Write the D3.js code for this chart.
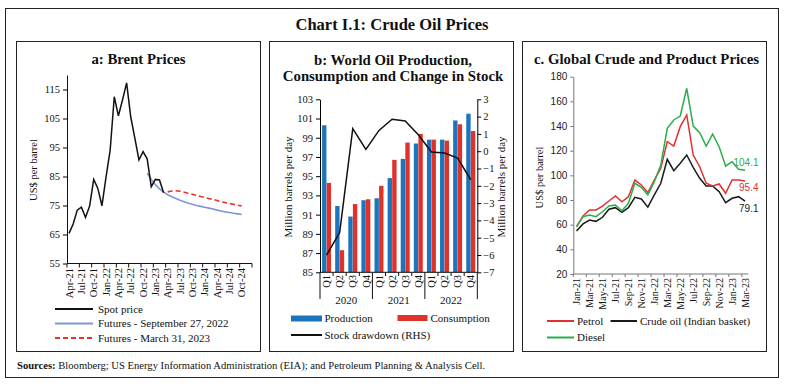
<!DOCTYPE html>
<html>
<head>
<meta charset="utf-8">
<script src="https://cdn.jsdelivr.net/npm/d3@7"></script>
<style>
  body { margin: 0; background: #fff; }
  svg text { font-family: "Liberation Serif", "Times New Roman", serif; fill: #111; }
  .sans { font-family: "Liberation Sans", Arial, sans-serif !important; }
</style>
</head>
<body>
<svg id="chart" width="787" height="389"></svg>
<script>
// --- Panel a: Brent (US$ per barrel), monthly ---
const brentStart = new Date(2021, 3, 1);   // Apr-21
const brentEnd = new Date(2025, 0, 1);     // up to Dec-24
const brentTickLabels = ["Apr-21","Jul-21","Oct-21","Jan-22","Apr-22","Jul-22","Oct-22","Jan-23",
  "Apr-23","Jul-23","Oct-23","Jan-24","Apr-24","Jul-24","Oct-24"];
const brentYTicks = [55, 65, 75, 85, 95, 105, 115];
// Apr-21 .. Mar-23
const spotPrice = [65.4, 68.6, 73.4, 74.4, 70.9, 74.8, 84.0, 80.9, 74.9, 84.9, 94.1, 112.5,
  105.9, 111.4, 117.3, 105.6, 98.2, 90.7, 93.6, 91.1, 81.5, 84.0, 83.8, 79.4];
// Nov-22 .. Oct-24
const futuresSep = [86.1, 84.0, 82.2, 80.7, 79.6, 78.7, 78.0, 77.4, 76.8, 76.3, 75.8, 75.4,
  75.0, 74.7, 74.4, 74.1, 73.8, 73.4, 73.1, 72.8, 72.6, 72.3, 72.1, 71.9];
// Apr-23 .. Oct-24
const futuresMar = [79.7, 80.0, 80.1, 79.9, 79.6, 79.2, 78.9, 78.5, 78.1, 77.8, 77.4, 77.1,
  76.7, 76.3, 76.0, 75.7, 75.4, 75.1, 74.8];

// --- Panel b: world oil balance, quarterly ---
const quarters = ["Q1","Q2","Q3","Q4","Q1","Q2","Q3","Q4","Q1","Q2","Q3","Q4"];
const years = ["2020", "2021", "2022"];
const production = [100.3, 91.9, 90.8, 92.5, 92.7, 94.8, 96.8, 98.4, 98.8, 98.8, 100.8, 101.5];
const consumption = [94.3, 87.3, 92.1, 92.6, 94.0, 96.7, 98.5, 99.4, 98.8, 98.7, 100.4, 99.7];
const stockDrawdown = [-6.0, -4.7, 1.3, 0.1, 1.2, 1.85, 1.75, 0.95, -0.05, -0.1, -0.4, -1.65];
const leftTicksB = [85, 87, 89, 91, 93, 95, 97, 99, 101, 103];
const rightTicksB = [-7, -6, -5, -4, -3, -2, -1, 0, 1, 2, 3];

// --- Panel c: crude and product prices, Jan-21 .. Mar-23 ---
const productMonths = ["Jan-21","Feb-21","Mar-21","Apr-21","May-21","Jun-21","Jul-21","Aug-21","Sep-21",
  "Oct-21","Nov-21","Dec-21","Jan-22","Feb-22","Mar-22","Apr-22","May-22","Jun-22","Jul-22","Aug-22",
  "Sep-22","Oct-22","Nov-22","Dec-22","Jan-23","Feb-23","Mar-23"];
const crudeIndian = [54.9, 60.6, 63.8, 62.7, 66.0, 72.5, 73.8, 70.0, 73.8, 82.2, 80.8, 74.2,
  84.1, 93.6, 113.0, 103.8, 109.8, 116.5, 106.5, 97.6, 91.4, 91.4, 86.8, 77.8, 81.4, 82.7, 79.1];
const petrol = [58.4, 67.0, 71.9, 71.9, 75.1, 79.2, 83.3, 78.6, 82.7, 96.2, 92.2, 86.0,
  96.2, 105.7, 127.3, 123.8, 139.5, 149.0, 116.5, 107.0, 93.6, 91.4, 93.0, 85.5, 96.2, 96.2, 95.4];
const diesel = [58.4, 66.5, 67.9, 66.5, 70.5, 75.2, 76.0, 71.3, 77.3, 93.6, 90.3, 84.1,
  94.9, 108.4, 138.2, 144.9, 148.1, 170.6, 140.0, 134.6, 123.8, 133.5, 123.2, 107.6, 111.1, 104.9, 104.1];
const yTicksC = [20, 40, 60, 80, 100, 120, 140, 160, 180];

const svg = d3.select("#chart");
const fmtMonth = d3.timeFormat("%b-%y");

// frames and titles
svg.append("rect").attr("x", 5.5).attr("y", 8.5).attr("width", 773).attr("height", 369)
  .attr("fill", "none").attr("stroke", "#222").attr("stroke-width", 1);
[16.5, 269.5, 522.5].forEach(x => {
  svg.append("rect").attr("x", x).attr("y", 41.5).attr("width", 244).attr("height", 310)
    .attr("fill", "none").attr("stroke", "#222").attr("stroke-width", 1);
});
svg.append("text").attr("x", 392).attr("y", 30).attr("text-anchor", "middle")
  .style("font-size", "16.5px").style("font-weight", "bold").text("Chart I.1: Crude Oil Prices");

const sources = svg.append("text").attr("x", 17).attr("y", 368.5).style("font-size", "10.6px");
sources.append("tspan").style("font-weight", "bold").text("Sources:");
sources.append("tspan").text(" Bloomberg; US Energy Information Administration (EIA); and Petroleum Planning & Analysis Cell.");

function panelTitle(x, y, txt) {
  svg.append("text").attr("x", x).attr("y", y).attr("text-anchor", "middle")
    .style("font-size", "14.8px").style("font-weight", "bold").text(txt);
}
function yTitle(x, y, txt, size) {
  svg.append("text").attr("transform", `translate(${x},${y}) rotate(-90)`)
    .attr("text-anchor", "middle").style("font-size", size || "10.5px").text(txt);
}
function legendLine(g, x1, x2, y, color, dash, width) {
  g.append("line").attr("x1", x1).attr("x2", x2).attr("y1", y).attr("y2", y)
    .attr("stroke", color).attr("stroke-width", width || 2)
    .attr("stroke-dasharray", dash || null);
}
function legendText(g, x, y, txt) {
  g.append("text").attr("x", x).attr("y", y).attr("dy", "0.35em").style("font-size", "11px").text(txt);
}

// ---------------- Panel a ----------------
function drawBrent() {
  const g = svg.append("g");
  const months = d3.timeMonth.range(brentStart, brentEnd).map(fmtMonth);
  const x = d3.scaleBand().domain(months).range([67, 252]);
  const y = d3.scaleLinear().domain([55, 120]).range([263.5, 75]);
  const cx = m => x(m) + x.bandwidth() / 2;

  panelTitle(138.5, 64, "a: Brent Prices");
  yTitle(37, 170, "US$ per barrel");

  const yAxis = g.append("g").attr("transform", "translate(67,0)")
    .call(d3.axisLeft(y).tickValues(brentYTicks).tickSize(4).tickSizeOuter(0));
  yAxis.selectAll("text").style("font-size", "10.5px").style("font-family", "Liberation Serif");
  yAxis.select(".domain").attr("stroke", "#111");

  // x axis: ticks between every third month, labels at month centres
  g.append("line").attr("x1", 67).attr("x2", 252).attr("y1", 263.5).attr("y2", 263.5).attr("stroke", "#111");
  months.forEach((m, i) => {
    if (i % 3 === 0) {
      g.append("line").attr("x1", x(m)).attr("x2", x(m)).attr("y1", 263.5).attr("y2", 267.5).attr("stroke", "#111");
    }
  });
  g.append("line").attr("x1", 252).attr("x2", 252).attr("y1", 263.5).attr("y2", 267.5).attr("stroke", "#111");
  brentTickLabels.forEach(lbl => {
    g.append("text").attr("transform", `translate(${cx(lbl)},${268}) rotate(-90)`)
      .attr("text-anchor", "end").attr("dy", "0.35em").style("font-size", "10.5px").text(lbl);
  });

  const line = d3.line().x(d => cx(d.m)).y(d => y(d.v));
  const series = (vals, start) => vals.map((v, i) => ({ m: months[months.indexOf(start) + i], v }));

  g.append("path").datum(series(futuresSep, "Nov-22")).attr("d", line)
    .attr("fill", "none").attr("stroke", "#7f96d6").attr("stroke-width", 1.6);
  g.append("path").datum(series(futuresMar, "Apr-23")).attr("d", line)
    .attr("fill", "none").attr("stroke", "#ee2f24").attr("stroke-width", 1.6).attr("stroke-dasharray", "5,3");
  g.append("path").datum(series(spotPrice, "Apr-21")).attr("d", line)
    .attr("fill", "none").attr("stroke", "#111").attr("stroke-width", 1.5);

  legendLine(g, 55, 93, 309, "#111");
  legendText(g, 98, 309, "Spot price");
  legendLine(g, 55, 93, 323.5, "#7f96d6");
  legendText(g, 98, 323.5, "Futures - September 27, 2022");
  legendLine(g, 55, 93, 338, "#ee2f24", "5,3");
  legendText(g, 98, 338, "Futures - March 31, 2023");
}

// ---------------- Panel b ----------------
function drawBalance() {
  const g = svg.append("g");
  const cats = quarters.map((q, i) => years[Math.floor(i / 4)] + q);
  const x = d3.scaleBand().domain(cats).range([320, 477.3]);
  const x1 = d3.scaleBand().domain(["p", "c"]).range([0, x.bandwidth()])
    .paddingOuter(0.45).paddingInner(0.05);
  const yL = d3.scaleLinear().domain([85, 103]).range([272.3, 99.3]);
  const yR = d3.scaleLinear().domain([-7, 3]).range([272.3, 99.3]);

  panelTitle(393, 64.5, "b: World Oil Production,");
  panelTitle(393, 81, "Consumption and Change in Stock");
  yTitle(292, 187, "Million barrels per day", "11px");
  yTitle(505, 187, "Million barrels per day", "11px");

  const data = cats.map((c, i) => ({ c, p: production[i], cons: consumption[i], d: stockDrawdown[i] }));

  g.append("g").selectAll("rect").data(data).join("rect")
    .attr("x", d => x(d.c) + x1("p")).attr("width", x1.bandwidth())
    .attr("y", d => yL(d.p)).attr("height", d => yL(85) - yL(d.p)).attr("fill", "#1c75bc");
  g.append("g").selectAll("rect").data(data).join("rect")
    .attr("x", d => x(d.c) + x1("c")).attr("width", x1.bandwidth())
    .attr("y", d => yL(d.cons)).attr("height", d => yL(85) - yL(d.cons)).attr("fill", "#e0312a");

  const la = g.append("g").attr("transform", "translate(320,0)")
    .call(d3.axisLeft(yL).tickValues(leftTicksB).tickSize(4).tickSizeOuter(0));
  la.selectAll("text").style("font-size", "10.5px").style("font-family", "Liberation Serif");
  const ra = g.append("g").attr("transform", "translate(477.3,0)")
    .call(d3.axisRight(yR).tickValues(rightTicksB).tickSize(4).tickPadding(2).tickSizeOuter(0));
  ra.selectAll("text").style("font-size", "10.5px").style("font-family", "Liberation Serif");

  // category axis with year groups
  g.append("line").attr("x1", 320).attr("x2", 477.3).attr("y1", 272.3).attr("y2", 272.3).attr("stroke", "#111");
  cats.forEach((c, i) => {
    const long = i % 4 === 0;
    g.append("line").attr("x1", x(c)).attr("x2", x(c)).attr("y1", 272.3).attr("y2", long ? 299 : 276)
      .attr("stroke", "#111");
    g.append("text").attr("transform", `translate(${x(c) + x.bandwidth() / 2},275) rotate(-90)`)
      .attr("text-anchor", "end").attr("dy", "0.35em").style("font-size", "10.5px").text(quarters[i]);
  });
  g.append("line").attr("x1", 477.3).attr("x2", 477.3).attr("y1", 272.3).attr("y2", 299).attr("stroke", "#111");
  years.forEach((yr, k) => {
    const mid = (x(cats[k * 4]) + x(cats[k * 4 + 3]) + x.bandwidth()) / 2;
    g.append("text").attr("x", mid).attr("y", 303.5).attr("text-anchor", "middle")
      .style("font-size", "11px").text(yr);
  });

  g.append("path").datum(data)
    .attr("d", d3.line().x(d => x(d.c) + x.bandwidth() / 2).y(d => yR(d.d)))
    .attr("fill", "none").attr("stroke", "#111").attr("stroke-width", 1.5);

  g.append("rect").attr("x", 291).attr("y", 315.5).attr("width", 31).attr("height", 6).attr("fill", "#1c75bc");
  legendText(g, 324.5, 318.5, "Production");
  g.append("rect").attr("x", 397.5).attr("y", 315).attr("width", 30).attr("height", 6).attr("fill", "#e0312a");
  legendText(g, 430.5, 318, "Consumption");
  legendLine(g, 291, 322, 335, "#111");
  legendText(g, 324.5, 335, "Stock drawdown (RHS)");
}

// ---------------- Panel c ----------------
function drawProducts() {
  const g = svg.append("g");
  const x = d3.scaleBand().domain(productMonths).range([573.3, 748.3]);
  const y = d3.scaleLinear().domain([20, 180]).range([274, 76.7]);
  const cx = m => x(m) + x.bandwidth() / 2;

  panelTitle(646.5, 64, "c. Global Crude and Product Prices");
  yTitle(543, 177.5, "US$ per barrel");

  const ya = g.append("g").attr("transform", "translate(573.3,0)")
    .call(d3.axisLeft(y).tickValues(yTicksC).tickSize(3).tickSizeOuter(0));
  ya.selectAll("text").attr("class", "sans").style("font-size", "10px").style("fill", "#222");
  ya.selectAll("line, path").attr("stroke", "#777");

  g.append("line").attr("x1", 573.3).attr("x2", 748.3).attr("y1", 274).attr("y2", 274).attr("stroke", "#777");
  productMonths.forEach((m, i) => {
    if (i % 2 === 0) {
      g.append("line").attr("x1", x(m)).attr("x2", x(m)).attr("y1", 274).attr("y2", 277).attr("stroke", "#777");
      g.append("text").attr("transform", `translate(${cx(m)},278) rotate(-90)`)
        .attr("text-anchor", "end").attr("dy", "0.35em").style("font-size", "10px").text(m);
    }
  });

  const line = d3.line().x((d, i) => cx(productMonths[i])).y(d => y(d));
  const seriesC = [
    { vals: crudeIndian, color: "#1a1a1a", dy: 7 },
    { vals: petrol, color: "#e2312d", dy: 6.5 },
    { vals: diesel, color: "#2bae4a", dy: -7.5 },
  ];
  seriesC.forEach(s => {
    g.append("path").datum(s.vals).attr("d", line)
      .attr("fill", "none").attr("stroke", s.color).attr("stroke-width", 1.5);
    const last = s.vals[s.vals.length - 1];
    g.append("text").attr("class", "sans").attr("x", 758.5).attr("y", y(last) + s.dy)
      .attr("dy", "0.35em").attr("text-anchor", "end")
      .style("font-size", "10px").style("fill", s.color).text(last.toFixed(1));
  });

  legendLine(g, 547, 574, 321, "#e2312d");
  legendText(g, 577, 321, "Petrol");
  legendLine(g, 610.5, 637, 321, "#1a1a1a");
  legendText(g, 640, 321, "Crude oil (Indian basket)");
  legendLine(g, 547, 574, 337.5, "#2bae4a");
  legendText(g, 577, 337.5, "Diesel");
}

drawBrent();
drawBalance();
drawProducts();
</script>
</body>
</html>
